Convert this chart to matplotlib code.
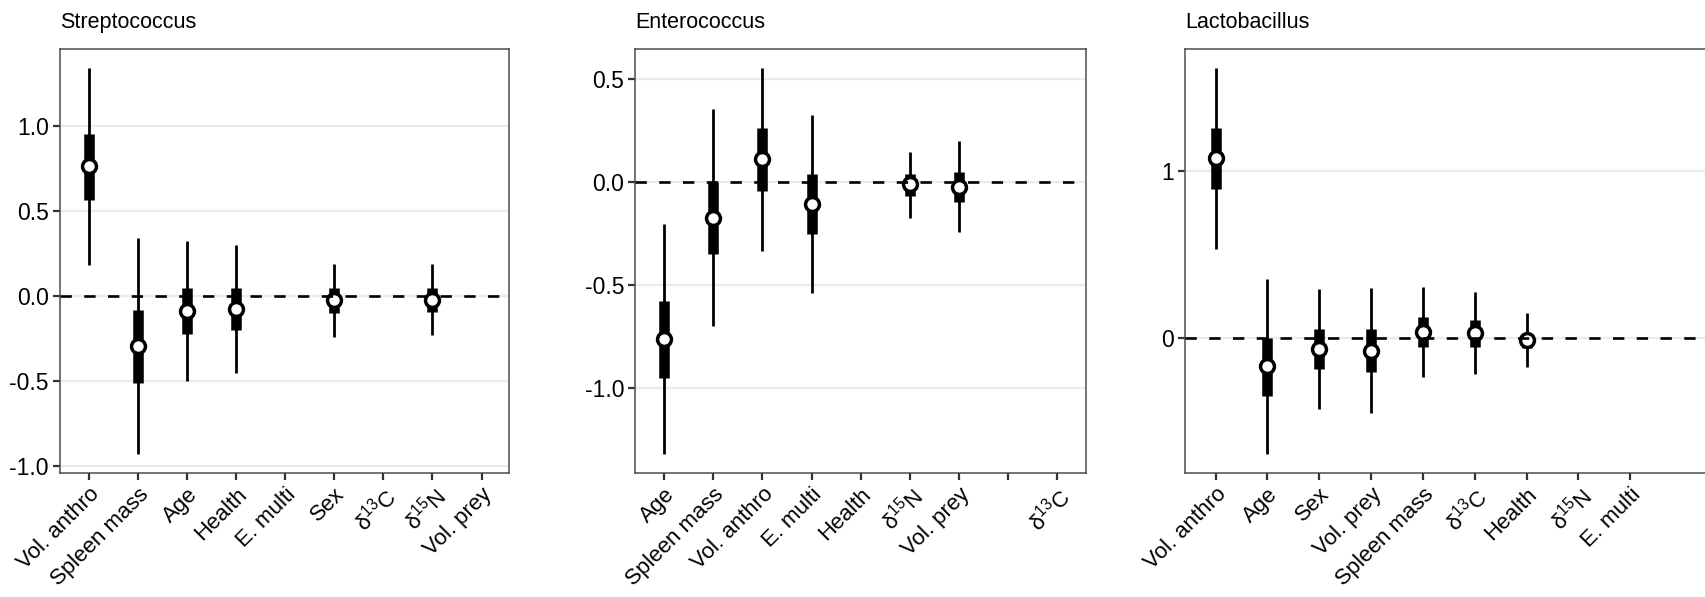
import numpy as np
import matplotlib.pyplot as plt

plt.rcParams['font.family'] = ['Liberation Sans', 'DejaVu Sans']
plt.rcParams['mathtext.fontset'] = 'custom'
plt.rcParams['mathtext.rm'] = 'Liberation Sans'

nan = np.nan
d13c = 'δ$^{13}$C'
d15n = 'δ$^{15}$N'

# Streptococcus
strep_vars = ['Vol. anthro', 'Spleen mass', 'Age', 'Health', 'E. multi', 'Sex', d13c, d15n, 'Vol. prey']
strep_med = [0.763, -0.296, -0.088, -0.074, nan, -0.025, nan, -0.022, nan]
strep_lo50 = [0.567, -0.512, -0.225, -0.202, nan, -0.098, nan, -0.094, nan]
strep_hi50 = [0.955, -0.084, 0.049, 0.049, nan, 0.047, nan, 0.047, nan]
strep_lo95 = [0.185, -0.931, -0.500, -0.451, nan, -0.241, nan, -0.231, nan]
strep_hi95 = [1.341, 0.341, 0.322, 0.302, nan, 0.190, nan, 0.186, nan]

# Enterococcus
ent_vars = ['Age', 'Spleen mass', 'Vol. anthro', 'E. multi', 'Health', d15n, 'Vol. prey', '', d13c]
ent_med = [-0.761, -0.172, 0.112, -0.105, nan, -0.008, -0.021, nan, nan]
ent_lo50 = [-0.948, -0.350, -0.041, -0.252, nan, -0.065, -0.094, nan, nan]
ent_hi50 = [-0.575, 0.003, 0.262, 0.040, nan, 0.040, 0.051, nan, nan]
ent_lo95 = [-1.319, -0.696, -0.332, -0.539, nan, -0.172, -0.243, nan, nan]
ent_hi95 = [-0.204, 0.356, 0.553, 0.327, nan, 0.149, 0.200, nan, nan]

# Lactobacillus
lac_vars = ['Vol. anthro', 'Age', 'Sex', 'Vol. prey', 'Spleen mass', d13c, 'Health', d15n, 'E. multi']
lac_med = [1.074, -0.169, -0.070, -0.078, 0.032, 0.026, -0.014, nan, nan]
lac_lo50 = [0.890, -0.349, -0.189, -0.204, -0.054, -0.054, -0.064, nan, nan]
lac_hi50 = [1.257, 0.000, 0.050, 0.050, 0.122, 0.106, 0.020, nan, nan]
lac_lo95 = [0.531, -0.696, -0.429, -0.449, -0.234, -0.217, -0.177, nan, nan]
lac_hi95 = [1.617, 0.351, 0.290, 0.300, 0.302, 0.272, 0.150, nan, nan]

W, H = 1705, 597
fig = plt.figure(figsize=(W / 100, H / 100), dpi=100)


def panel(rect_px, title, cats, med, lo50, hi50, lo95, hi95, ylim, yticks, yticklabels, xlim):
    x0, x1, ytop, ybot = rect_px
    ax = fig.add_axes([x0 / W, (H - ybot) / H, (x1 - x0) / W, (ybot - ytop) / H])
    x = np.arange(len(cats))
    for i in x:
        if np.isnan(med[i]):
            continue
        ax.vlines(i, lo95[i], hi95[i], color='black', lw=2.0, zorder=3, capstyle='butt')
        ax.vlines(i, lo50[i], hi50[i], color='black', lw=7.6, zorder=4, capstyle='butt')
        ax.plot(i, med[i], 'o', ms=10, mfc='white', mec='black', mew=2.5, zorder=5)
    ax.axhline(0, color='black', lw=1.9, ls=(0, (4.3, 4.7)), zorder=6)
    ax.set_xlim(*xlim)
    ax.set_ylim(*ylim)
    ax.set_xticks(x)
    ax.set_xticklabels(cats, rotation=45, ha='right', va='top', rotation_mode='anchor', fontsize=16)
    ax.set_yticks(yticks)
    ax.set_yticklabels(yticklabels, fontsize=16.5)
    ax.grid(axis='y', color='#ebebeb', lw=1.6, zorder=0)
    ax.set_axisbelow(True)
    for s in ax.spines.values():
        s.set_color('#4d4d4d')
        s.set_linewidth(1.1)
    ax.tick_params(length=5, width=1.6, color='#333333', labelcolor='black', pad=3)
    ax.set_title(title, loc='left', fontsize=15.5, pad=15.5)
    return ax


panel((60, 509, 49.3, 472.7), 'Streptococcus', strep_vars, strep_med, strep_lo50, strep_hi50,
      strep_lo95, strep_hi95, (-1.039, 1.451), [-1.0, -0.5, 0.0, 0.5, 1.0],
      ['-1.0', '-0.5', '0.0', '0.5', '1.0'], (-0.585, 8.56))

panel((635.3, 1086, 49.3, 472.7), 'Enterococcus', ent_vars, ent_med, ent_lo50, ent_hi50,
      ent_lo95, ent_hi95, (-1.41, 0.646), [-1.0, -0.5, 0.0, 0.5],
      ['-1.0', '-0.5', '0.0', '0.5'], (-0.59, 8.59))

panel((1185, 1725, 49.3, 472.7), 'Lactobacillus', lac_vars, lac_med, lac_lo50, lac_hi50,
      lac_lo95, lac_hi95, (-0.808, 1.727), [0, 1], ['0', '1'], (-0.59, 9.83))

fig.savefig('out.png', dpi=100, facecolor='white')
